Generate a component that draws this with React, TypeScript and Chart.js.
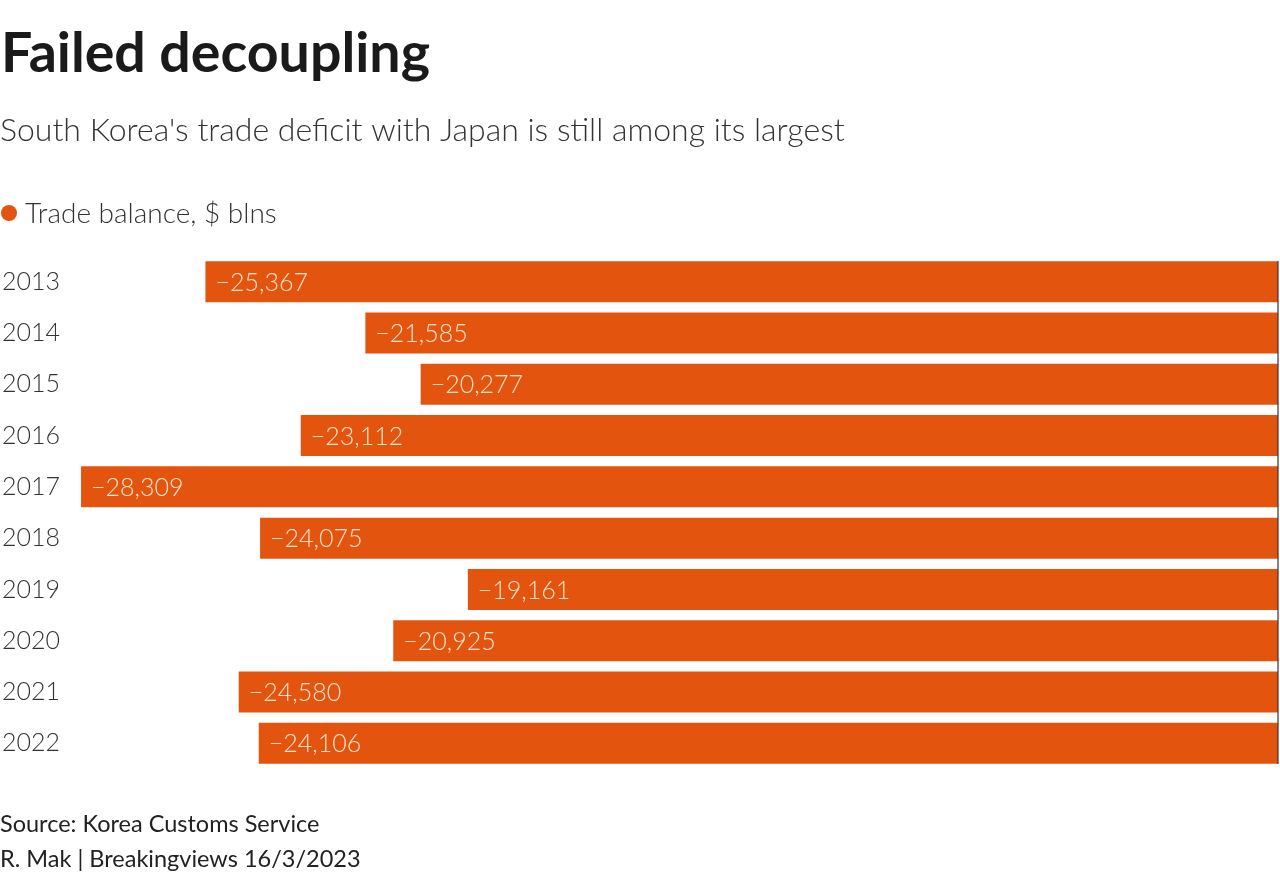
import React, { useEffect, useRef } from 'react';
import { Chart, registerables } from 'chart.js';

Chart.register(...registerables);

const years = ['2013', '2014', '2015', '2016', '2017', '2018', '2019', '2020', '2021', '2022'];
const balance = [-25367, -21585, -20277, -23112, -28309, -24075, -19161, -20925, -24580, -24106];

const titleText = 'Failed decoupling';
const subtitleText = "South Korea's trade deficit with Japan is still among its largest";
const legendText = 'Trade balance, $ blns';
const sourceText = 'Source: Korea Customs Service';
const creditText = 'R. Mak | Breakingviews 16/3/2023';

const FONT = '"Source Sans Pro", Lato, "Noto Sans", sans-serif';
const BAR = '#E3550F';
const TEXT = '#222222';

function fmt(v: number): string {
  const s = Math.abs(v).toLocaleString('en-US');
  return (v < 0 ? '\u2212' : '') + s;
}

const textPlugin = {
  id: 'textPlugin',
  afterDatasetsDraw(chart: any) {
    const ctx = chart.ctx;
    const meta = chart.getDatasetMeta(0);
    const xs = chart.scales.x;
    const area = chart.chartArea;
    ctx.save();
    // zero line
    const x0 = xs.getPixelForValue(0);
    ctx.strokeStyle = '#333333';
    ctx.lineWidth = 1.2;
    ctx.beginPath();
    ctx.moveTo(x0, area.top + 5);
    ctx.lineTo(x0, area.bottom - 5);
    ctx.stroke();
    // value labels
    ctx.font = `300 25px ${FONT}`;
    ctx.fillStyle = '#FDE4CC';
    ctx.textAlign = 'left';
    ctx.textBaseline = 'middle';
    meta.data.forEach((bar: any, i: number) => {
      const left = Math.min(bar.x, bar.base);
      ctx.fillText(fmt(balance[i]), left + 10, bar.y + 1);
    });
    ctx.restore();
  },
  afterDraw(chart: any) {
    const ctx = chart.ctx;
    ctx.save();
    ctx.textAlign = 'left';
    ctx.textBaseline = 'alphabetic';
    ctx.fillStyle = '#1a1a1a';
    ctx.font = `bold 55.5px ${FONT}`;
    ctx.fillText(titleText, 1, 72);
    ctx.fillStyle = '#333333';
    ctx.font = `300 32px ${FONT}`;
    ctx.fillText(subtitleText, 0, 141);
    // legend
    ctx.fillStyle = BAR;
    ctx.beginPath();
    ctx.arc(9, 213, 8, 0, Math.PI * 2);
    ctx.fill();
    ctx.fillStyle = '#333333';
    ctx.font = `300 28px ${FONT}`;
    ctx.fillText(legendText, 25, 223);
    // footer
    ctx.fillStyle = TEXT;
    ctx.font = `23.5px ${FONT}`;
    ctx.fillText(sourceText, 0, 832);
    ctx.fillText(creditText, 0, 867);
    ctx.restore();
  },
};

export default function App() {
  const ref = useRef<HTMLCanvasElement | null>(null);
  useEffect(() => {
    if (!ref.current) return;
    const chart = new Chart(ref.current, {
      type: 'bar',
      data: {
        labels: years,
        datasets: [
          {
            label: legendText,
            data: balance,
            backgroundColor: BAR,
            borderWidth: 0,
            barPercentage: 0.8,
            categoryPercentage: 1,
          },
        ],
      },
      options: {
        indexAxis: 'y',
        responsive: false,
        animation: false,
        layout: { padding: { top: 256, bottom: 112, left: 2, right: 2 } },
        plugins: {
          legend: { display: false },
          tooltip: { enabled: false },
          title: { display: false },
        },
        scales: {
          x: {
            display: false,
            min: -28570,
            max: 0,
          },
          y: {
            afterFit: (s: any) => {
              s.width = 68;
            },
            grid: { display: false },
            border: { display: false },
            ticks: {
              crossAlign: 'far',
              padding: 0,
              color: '#333333',
              font: { family: FONT, size: 25, weight: '300' as any },
            },
          },
        },
      },
      plugins: [textPlugin],
    });
    return () => chart.destroy();
  }, []);
  return (
    <div style={{ position: 'absolute', left: 0, top: 0, width: 1280, height: 881, background: '#ffffff' }}>
      <canvas ref={ref} width={1280} height={881} style={{ display: 'block', width: 1280, height: 881 }} />
    </div>
  );
}
